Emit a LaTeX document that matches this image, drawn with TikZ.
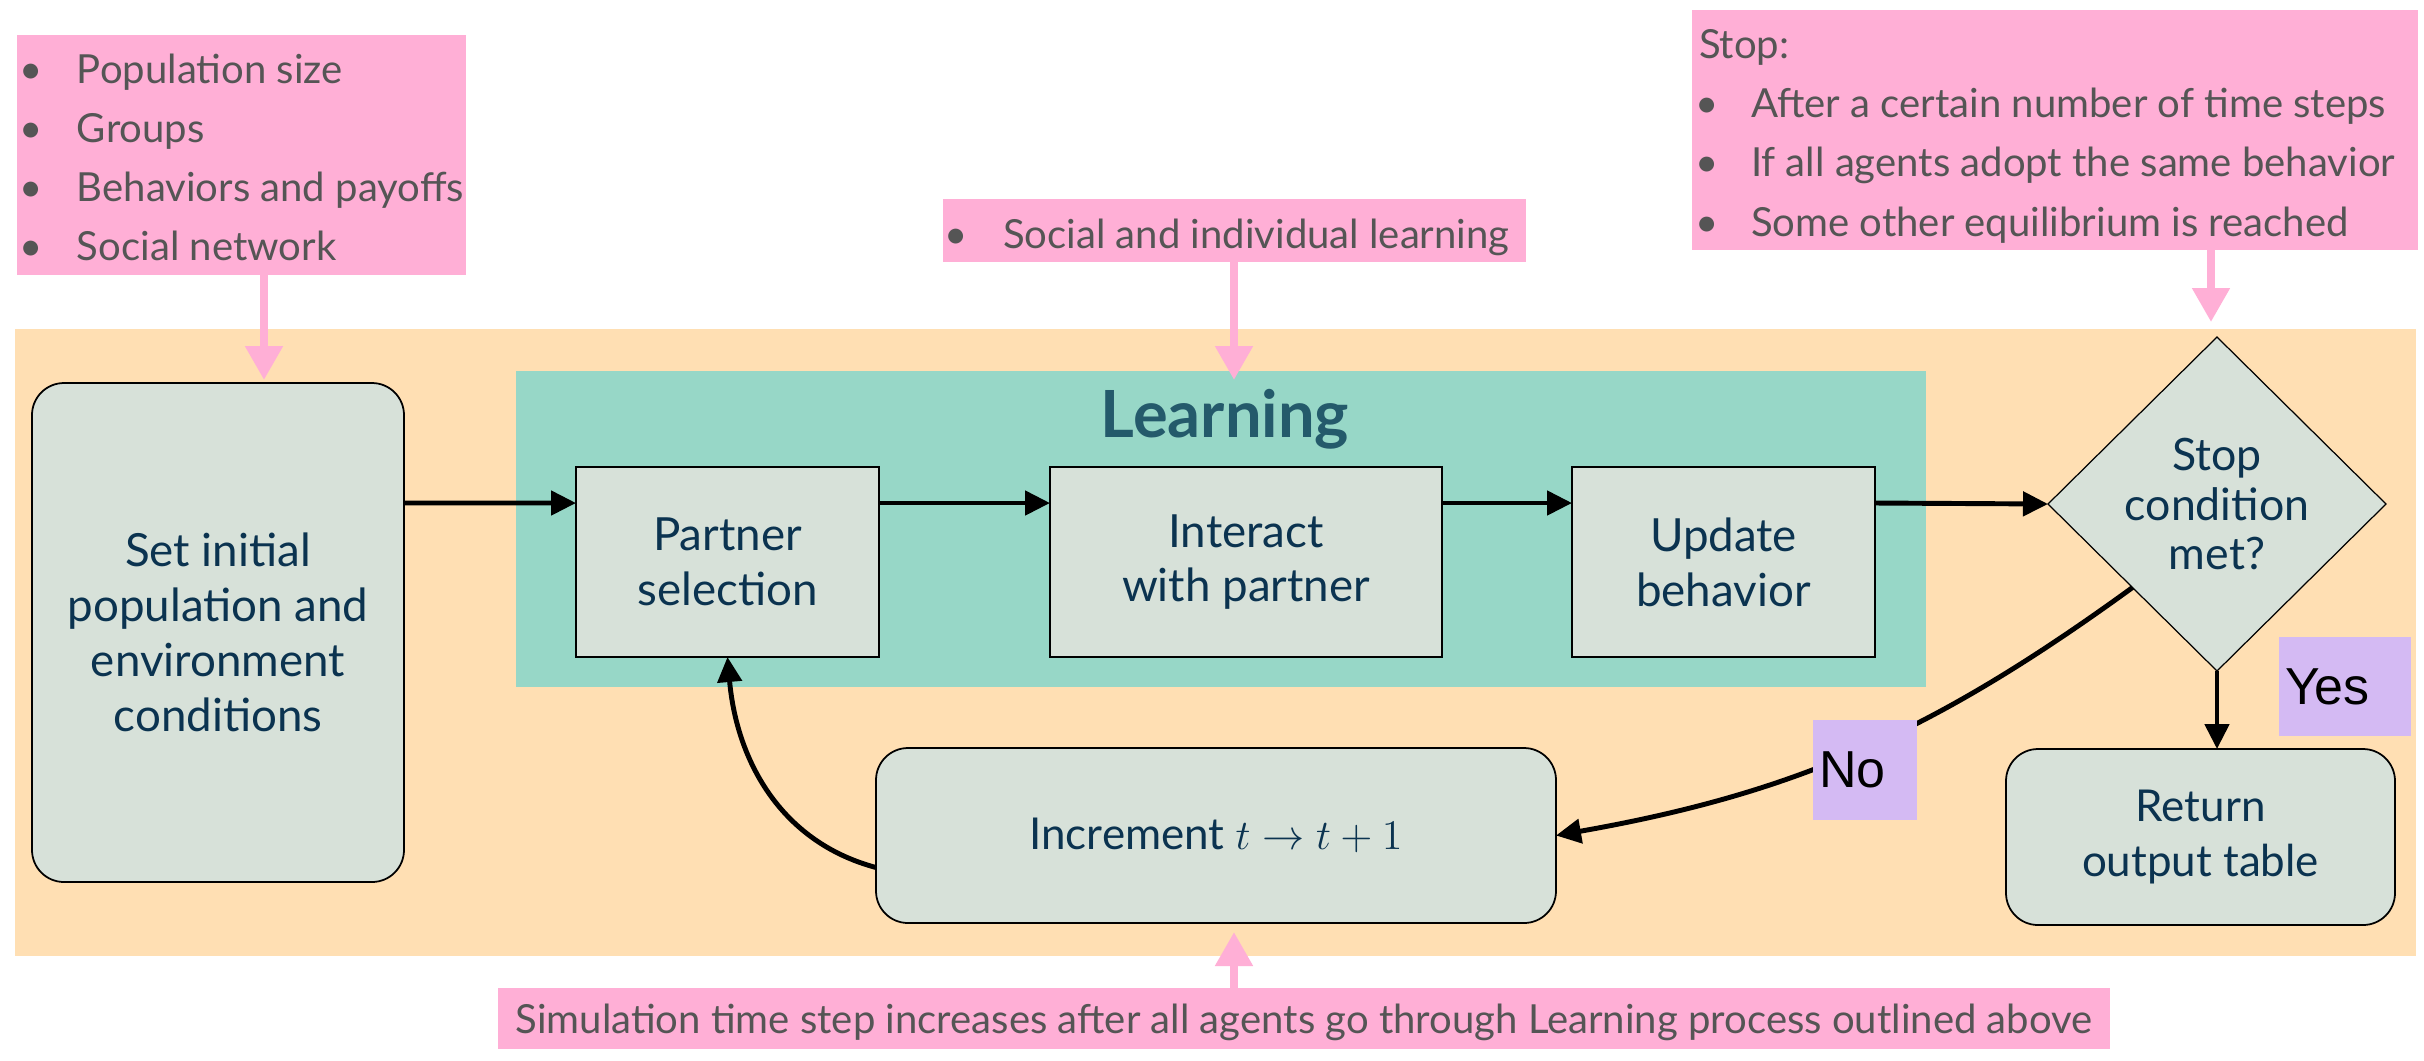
\documentclass[tikz,border=0pt]{standalone}
\usepackage{fontspec}
\setmainfont{Lato}
\newfontfamily\helv{Liberation Sans}
\usetikzlibrary{shapes.geometric,arrows.meta,calc}
\definecolor{pinkc}{HTML}{FFAFD6}
\definecolor{orangec}{HTML}{FFDFB3}
\definecolor{tealc}{HTML}{97D7C7}
\definecolor{boxc}{HTML}{D7E1D9}
\definecolor{purpc}{HTML}{D4BAF3}
\definecolor{navy}{HTML}{0B3350}
\definecolor{greyt}{HTML}{555555}
\definecolor{learnc}{HTML}{245A6B}
\begin{document}
\begin{tikzpicture}[x=0.1mm,y=-0.1mm,
  every node/.style={inner sep=0pt, outer sep=0pt},
  proc/.style={draw=black, line width=0.5pt, fill=boxc, text=navy, align=center, font=\fontsize{13}{15.6}\selectfont},
  rproc/.style={proc, rounded corners=3.2mm},
  pinkbox/.style={fill=pinkc},
  ptext/.style={text=greyt, font=\fontsize{11.4}{16.8}\selectfont, anchor=base west},
  pbullet/.style={text=greyt, font=\fontsize{11.4}{16.8}\selectfont, anchor=base},
  lab/.style={fill=purpc, text=black, font=\helv\fontsize{14.8}{17}\selectfont, align=left},
  conn/.style={-{Triangle[length=2.5mm,width=2.4mm]}, line width=1.4pt},
  parrow/.style={-{Triangle[length=3.4mm,width=3.6mm]}, line width=0.8mm, draw=pinkc},
]
\useasboundingbox (0,0) rectangle (2424,1060);
\fill[white] (0,0) rectangle (2424,1060);
% backgrounds
\node[fill=orangec, minimum width=240.1mm, minimum height=62.7mm] (bg) at (1215.5,642.5) {};
\node[fill=tealc, minimum width=141mm, minimum height=31.6mm] (learnbg) at (1221,529) {};
\node[font=\bfseries\fontsize{18.5}{21}\selectfont, text=learnc, anchor=base] (ltitle) at (1225,437) {Learning};

% process boxes
\node[rproc, minimum width=37.2mm, minimum height=49.9mm] (init) at (218,632.5) {Set initial\\population and\\environment\\conditions};
\node[proc, minimum width=30.3mm, minimum height=19mm] (ps) at (727.5,562) {Partner\\selection};
\node[proc, minimum width=39.2mm, minimum height=19mm] (inter) at (1246,562) {Interact\\with partner};
\node[proc, minimum width=30.3mm, minimum height=19mm] (upd) at (1723.5,562) {Update\\behavior};
\node[diamond, draw=black, line width=0.35pt, fill=boxc, minimum width=33.8mm, minimum height=33.4mm] (stop) at (2217,504) {};
\node[text=navy, align=center, font=\fontsize{12.7}{14.2}\selectfont] (stoptxt) at (stop.center) {Stop\\condition\\met?};
\node[rproc, minimum width=68mm, minimum height=17.5mm, font=\fontsize{12.5}{15}\selectfont] (inc) at (1216,835.5) {Increment $t\rightarrow t+1$};
\node[rproc, minimum width=38.9mm, minimum height=17.6mm, font=\fontsize{12.5}{15.4}\selectfont] (ret) at (2200.5,837) {Return\\output table};

% pink annotation boxes
\node[pinkbox, minimum width=44.9mm, minimum height=24mm] (p1) at (241.5,155) {};
\foreach \t [count=\i] in {Population size, Groups, Behaviors and payoffs, Social network}{
  \node[pbullet] (p1b\i) at (31,24+59*\i) {•};
  \node[ptext] (p1t\i) at (77,24+59*\i) {\t};
}
\node[pinkbox, minimum width=58.3mm, minimum height=6.3mm] (soc) at (1234.5,230.5) {};
\node[pbullet] (socb) at (956,248) {•};
\node[ptext] (soct) at (1003,248) {Social and individual learning};
\node[pinkbox, minimum width=72.6mm, minimum height=24mm] (sbox) at (2055,130) {};
\node[ptext] (sboxt0) at (1699,58) {Stop:};
\foreach \t [count=\i] in {After a certain number of time steps, If all agents adopt the same behavior, Some other equilibrium is reached}{
  \node[pbullet] (sb\i) at (1707,57.5+59.5*\i) {•};
  \node[ptext] (st\i) at (1751,57.5+59.5*\i) {\t};
}
\node[pinkbox, minimum width=161.2mm, minimum height=6.1mm] (bot) at (1304,1018.5) {};
\node[ptext, anchor=base] (bott) at (1304,1033) {Simulation time step increases after all agents go through Learning process outlined above};

% pink arrows
\coordinate (a1) at (264,380);
\coordinate (a2) at (1234,380);
\coordinate (a3) at (2211,322);
\coordinate (a4) at (1234,932);
\draw[parrow] (p1.south -| a1) -- (a1);
\draw[parrow] (soc.south -| a2) -- (a2);
\draw[parrow] (sbox.south -| a3) -- (a3);
\draw[parrow] (bot.north -| a4) -- (a4);

% flow arrows
\draw[conn] ([yshift=12.95mm]init.east) -- ([yshift=5.9mm]ps.west);
\draw[conn] ([yshift=5.9mm]ps.east) -- ([yshift=5.9mm]inter.west);
\draw[conn] ([yshift=5.9mm]inter.east) -- ([yshift=5.9mm]upd.west);
\draw[conn] ([yshift=5.9mm]upd.east) -- (stop.west);
\draw[conn] (stop.south) -- (stop.south |- ret.north);
\draw[conn] (stop.south west) to[out=216, in=10] (inc.east);
\draw[conn] ([yshift=-3.2mm]inc.west) to[out=165, in=-85] (ps.south);

% labels
\node[lab, minimum width=13.2mm, minimum height=9.9mm, text width=12mm, inner xsep=0.6mm] (yes) at (2345,686.5) {Yes};
\node[lab, minimum width=10.4mm, minimum height=10mm, text width=9.2mm, inner xsep=0.6mm] (no) at (1865,770) {No};
\end{tikzpicture}
\end{document}
